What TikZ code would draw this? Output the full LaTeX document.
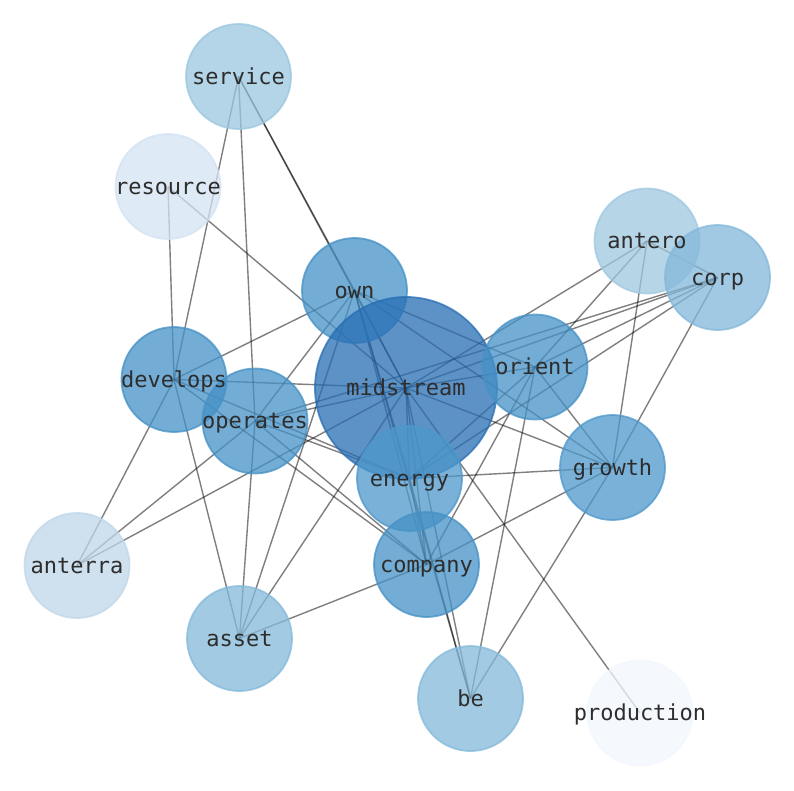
\documentclass[tikz,border=0pt]{standalone}
\usepackage{fontspec}
\newfontfamily\lblfont{DejaVu Sans Mono}
\definecolor{cMid}{RGB}{40,110,180}
\definecolor{cHi}{RGB}{69,145,198}
\definecolor{cHi2}{RGB}{78,152,203}
\definecolor{cSer}{RGB}{154,199,223}
\definecolor{cRes}{RGB}{212,227,242}
\definecolor{cAnt}{RGB}{158,200,224}
\definecolor{cCorp}{RGB}{131,184,218}
\definecolor{cAnr}{RGB}{191,215,234}
\definecolor{cAss}{RGB}{132,186,218}
\definecolor{cPro}{RGB}{242,247,254}
\definecolor{lbl}{RGB}{45,45,45}
\tikzset{
  wnode/.style={circle, minimum size=105pt, inner sep=0pt, fill=#1, draw=#1, fill opacity=0.75, draw opacity=0.75, line width=1.8pt},
  bignode/.style={circle, minimum size=182pt, inner sep=0pt, fill=#1, draw=#1, fill opacity=0.75, draw opacity=0.75, line width=1.8pt},
  wlabel/.style={text=lbl, font=\lblfont\fontsize{22}{22}\selectfont, inner sep=0pt, text height=17pt, text depth=2pt},
  wedge/.style={draw=black, draw opacity=0.5, line width=1.4pt}
}
\begin{document}
\begin{tikzpicture}[x=1pt,y=-1pt]
\useasboundingbox (0,0) rectangle (794,790);
\fill[white] (0,0) rectangle (794,790);
% coordinates of node centres
\coordinate (service) at (238.5,76.5);
\coordinate (resource) at (168,186.5);
\coordinate (own) at (354.5,290.5);
\coordinate (midstream) at (406,388);
\coordinate (orient) at (535,367);
\coordinate (antero) at (647,241);
\coordinate (corp) at (717.5,277.5);
\coordinate (develops) at (174,379.5);
\coordinate (operates) at (255,421);
\coordinate (energy) at (409.5,478.5);
\coordinate (growth) at (612.5,467.5);
\coordinate (anterra) at (77,565.5);
\coordinate (company) at (426.5,564.5);
\coordinate (asset) at (239.5,638.5);
\coordinate (be) at (470.5,698.5);
\coordinate (production) at (640,713);
% edges
\foreach \a/\b in {service/develops, service/operates, service/own, service/midstream,
  resource/develops, resource/midstream,
  own/develops, own/operates, own/midstream, own/orient, own/growth, own/energy, own/company, own/be, own/asset,
  develops/midstream, develops/energy, develops/company, develops/anterra, develops/asset,
  operates/midstream, operates/energy, operates/company, operates/anterra, operates/asset, operates/corp,
  midstream/orient, midstream/antero, midstream/corp, midstream/growth, midstream/energy, midstream/company,
  midstream/be, midstream/asset, midstream/anterra, midstream/production,
  orient/antero, orient/corp, orient/growth, orient/be, orient/company, orient/energy,
  antero/corp, antero/growth, corp/growth, corp/energy,
  energy/growth, energy/company, energy/be, growth/company, growth/be, company/asset}
  \draw[wedge] (\a) -- (\b);
% nodes
\node[wnode=cSer] (nservice) at (service) {};
\node[wnode=cRes] (nresource) at (resource) {};
\node[wnode=cHi] (nown) at (own) {};
\node[wnode=cAnt] (nantero) at (antero) {};
\node[wnode=cCorp] (ncorp) at (corp) {};
\node[wnode=cHi] (ndevelops) at (develops) {};
\node[wnode=cHi] (noperates) at (operates) {};
\node[bignode=cMid] (nmidstream) at (midstream) {};
\node[wnode=cHi] (norient) at (orient) {};
\node[wnode=cHi2] (nenergy) at (energy) {};
\node[wnode=cHi2] (ngrowth) at (growth) {};
\node[wnode=cAnr] (nanterra) at (anterra) {};
\node[wnode=cHi] (ncompany) at (company) {};
\node[wnode=cAss] (nasset) at (asset) {};
\node[wnode=cAss] (nbe) at (be) {};
\node[wnode=cPro] (nproduction) at (production) {};
% labels
\foreach \n in {service,resource,own,antero,corp,develops,operates,midstream,orient,energy,growth,anterra,company,asset,be,production}
  \node[wlabel] (l\n) at (\n) {\n};
\end{tikzpicture}
\end{document}
